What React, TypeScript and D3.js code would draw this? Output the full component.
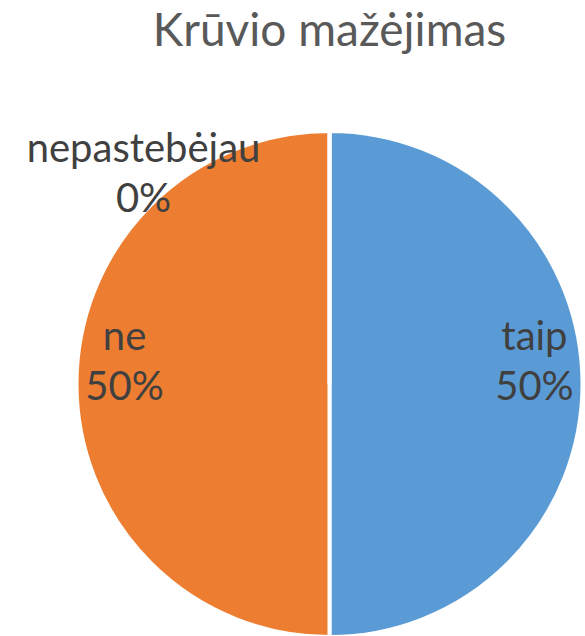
import React from 'react';
import * as d3 from 'd3';

const title = 'Krūvio mažėjimas';
const categories = ['taip', 'ne', 'nepastebėjau'];
const values = [50, 50, 0];
const colors = ['#5B9BD5', '#ED7D31', '#A5A5A5'];

const W = 585;
const H = 636;

export default function App() {
  const cx = 329.5;
  const cy = 384;
  const r = 253;

  const total = d3.sum(values);
  const pie = d3.pie<number>().sort(null).value(d => d);
  const arcs = pie(values);
  const arc = d3.arc<d3.PieArcDatum<number>>().innerRadius(0).outerRadius(r);
  const labelArc = d3.arc<d3.PieArcDatum<number>>().innerRadius(r * 0.81).outerRadius(r * 0.81);

  const fmt = (v: number) => `${Math.round((v / total) * 100)}%`;

  return (
    <svg width={W} height={H} style={{ position: 'absolute', left: 0, top: 0, fontFamily: 'Lato, "Open Sans", sans-serif' }}>
      <rect width={W} height={H} fill="#fff" />
      <text x={cx} y={46} textAnchor="middle" fontSize={46} fill="#595959">{title}</text>
      <g transform={`translate(${cx},${cy})`}>
        {arcs.map((a, i) => (
          <path key={i} d={arc(a) || ''} fill={colors[i]} stroke="#fff" strokeWidth={4} />
        ))}
        {arcs.map((a, i) => {
          let x: number, y: number;
          if (values[i] === 0) {
            // outside label, placed up-left of the top of the pie
            x = -186;
            y = -r + 41;
          } else {
            [x, y] = labelArc.centroid(a);
            y -= 24;
          }
          return (
            <text key={`l${i}`} textAnchor="middle" fontSize={40} fill="#404040">
              <tspan x={x} y={y - 10}>{categories[i]}</tspan>
              <tspan x={x} y={y + 40}>{fmt(values[i])}</tspan>
            </text>
          );
        })}
      </g>
    </svg>
  );
}
